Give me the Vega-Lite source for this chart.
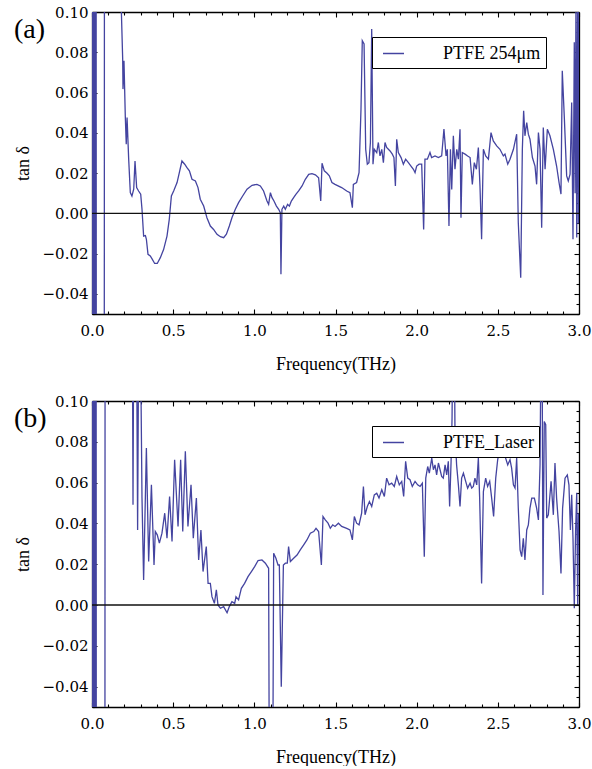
{
  "$schema": "https://vega.github.io/schema/vega-lite/v6.json",
  "background": "white",
  "padding": {"left": 14, "top": 5, "right": 5, "bottom": 0},
  "spacing": 21,
  "config": {
    "view": {"stroke": null},
    "axis": {"domainColor": "black", "domainWidth": 1.3, "tickColor": "black", "tickWidth": 1.1, "labelColor": "black", "titleColor": "black", "grid": false, "labelFont": "DejaVu Serif", "labelFontSize": 15, "titleFont": "Liberation Serif", "titleFontSize": 18, "titleFontWeight": "normal", "labelFlush": false, "labelOverlap": false},
    "legend": {"labelColor": "black"}
  },
  "datasets": {
    "a": [
      {"f":0.000,"v":0.5},{"f":0.004,"v":-0.5},{"f":0.008,"v":0.5},{"f":0.012,"v":-0.5},{"f":0.016,"v":0.5},{"f":0.020,"v":-0.5},{"f":0.024,"v":0.5},{"f":0.028,"v":-0.5},{"f":0.074,"v":-0.5},{"f":0.078,"v":0.5},{"f":0.175,"v":0.5},
      {"f":0.181,"v":0.100},{"f":0.189,"v":0.0766},{"f":0.191,"v":0.0617},{"f":0.197,"v":0.0758},{"f":0.205,"v":0.0484},{"f":0.211,"v":0.0343},{"f":0.216,"v":0.0476},{"f":0.226,"v":0.0269},{"f":0.236,"v":0.0103},{"f":0.246,"v":0.0086},{"f":0.257,"v":0.012},{"f":0.265,"v":0.026},{"f":0.275,"v":0.0128},{"f":0.287,"v":0.0111},{"f":0.300,"v":0.0095},{"f":0.308,"v":0.002},{"f":0.318,"v":-0.0113},{"f":0.329,"v":-0.011},{"f":0.335,"v":-0.0129},{"f":0.345,"v":-0.0204},{"f":0.359,"v":-0.0212},{"f":0.370,"v":-0.0226},{"f":0.386,"v":-0.0249},{"f":0.402,"v":-0.0249},{"f":0.421,"v":-0.022},{"f":0.441,"v":-0.018},{"f":0.462,"v":-0.0113},{"f":0.476,"v":-0.003},{"f":0.489,"v":0.0086},{"f":0.503,"v":0.0111},{"f":0.524,"v":0.0153},{"f":0.538,"v":0.0202},{"f":0.554,"v":0.026},{"f":0.571,"v":0.0244},{"f":0.585,"v":0.0227},{"f":0.600,"v":0.0211},{"f":0.616,"v":0.0169},{"f":0.637,"v":0.0161},{"f":0.653,"v":0.0128},{"f":0.667,"v":0.007},{"f":0.688,"v":0.0036},{"f":0.708,"v":-0.0022},{"f":0.729,"v":-0.0063},{"f":0.749,"v":-0.008},{"f":0.770,"v":-0.0104},{"f":0.791,"v":-0.0116},{"f":0.811,"v":-0.0121},{"f":0.828,"v":-0.0104},{"f":0.846,"v":-0.0063},{"f":0.862,"v":-0.0022},{"f":0.883,"v":0.002},{"f":0.903,"v":0.0053},{"f":0.928,"v":0.0086},{"f":0.955,"v":0.012},{"f":0.986,"v":0.0139},{"f":1.016,"v":0.0144},{"f":1.037,"v":0.0136},{"f":1.057,"v":0.0111},{"f":1.078,"v":0.0061},{"f":1.088,"v":0.0045},{"f":1.099,"v":0.0103},{"f":1.109,"v":0.0078},{"f":1.121,"v":0.0061},{"f":1.136,"v":0.0036},{"f":1.150,"v":0.002},{"f":1.160,"v":0.0003},{"f":1.164,"v":-0.0303},{"f":1.170,"v":0.002},{"f":1.181,"v":0.0036},{"f":1.191,"v":0.002},{"f":1.205,"v":0.0045},{"f":1.216,"v":0.0036},{"f":1.228,"v":0.0061},{"f":1.242,"v":0.0078},{"f":1.257,"v":0.0095},{"f":1.273,"v":0.0111},{"f":1.294,"v":0.0136},{"f":1.314,"v":0.0169},{"f":1.335,"v":0.0194},{"f":1.355,"v":0.0197},{"f":1.376,"v":0.0191},{"f":1.396,"v":0.0177},{"f":1.409,"v":0.0061},{"f":1.417,"v":0.0249},{"f":1.431,"v":0.0211},{"f":1.448,"v":0.0199},{"f":1.462,"v":0.0186},{"f":1.478,"v":0.0153},{"f":1.497,"v":0.0144},{"f":1.538,"v":0.0128},{"f":1.569,"v":0.0111},{"f":1.589,"v":0.0103},{"f":1.604,"v":0.0028},{"f":1.610,"v":0.0144},{"f":1.630,"v":0.0153},{"f":1.645,"v":0.0202},{"f":1.657,"v":0.0517},{"f":1.665,"v":0.0857},{"f":1.676,"v":0.0841},{"f":1.686,"v":0.0318},{"f":1.696,"v":0.0244},{"f":1.706,"v":0.0252},{"f":1.715,"v":0.0352},{"f":1.723,"v":0.0915},{"f":1.731,"v":0.0244},{"f":1.739,"v":0.0318},{"f":1.754,"v":0.0302},{"f":1.764,"v":0.0352},{"f":1.774,"v":0.0285},{"f":1.785,"v":0.0318},{"f":1.795,"v":0.0252},{"f":1.805,"v":0.0352},{"f":1.815,"v":0.0327},{"f":1.836,"v":0.031},{"f":1.850,"v":0.0294},{"f":1.860,"v":0.0277},{"f":1.869,"v":0.0136},{"f":1.877,"v":0.0368},{"f":1.887,"v":0.0302},{"f":1.904,"v":0.0277},{"f":1.918,"v":0.0244},{"f":1.932,"v":0.0269},{"f":1.949,"v":0.0252},{"f":1.965,"v":0.0235},{"f":1.980,"v":0.0219},{"f":1.990,"v":0.0202},{"f":2.000,"v":0.0235},{"f":2.015,"v":0.0244},{"f":2.031,"v":0.0244},{"f":2.043,"v":-0.008},{"f":2.051,"v":0.0269},{"f":2.066,"v":0.0269},{"f":2.082,"v":0.0302},{"f":2.092,"v":0.0277},{"f":2.113,"v":0.0285},{"f":2.134,"v":0.0277},{"f":2.154,"v":0.0285},{"f":2.168,"v":0.0418},{"f":2.181,"v":0.0285},{"f":2.189,"v":0.0318},{"f":2.199,"v":-0.0063},{"f":2.208,"v":0.0318},{"f":2.216,"v":0.0119},{"f":2.226,"v":0.0385},{"f":2.236,"v":0.0219},{"f":2.247,"v":0.0318},{"f":2.257,"v":0.0269},{"f":2.267,"v":0.0418},{"f":2.273,"v":-0.0022},{"f":2.281,"v":0.0302},{"f":2.298,"v":0.0294},{"f":2.314,"v":0.0285},{"f":2.329,"v":0.0277},{"f":2.343,"v":0.0144},{"f":2.355,"v":0.0252},{"f":2.368,"v":0.0219},{"f":2.380,"v":0.0327},{"f":2.390,"v":0.0136},{"f":2.400,"v":-0.0129},{"f":2.411,"v":0.0318},{"f":2.425,"v":0.0285},{"f":2.442,"v":0.0269},{"f":2.458,"v":0.0401},{"f":2.472,"v":0.036},{"f":2.493,"v":0.0335},{"f":2.513,"v":0.0318},{"f":2.534,"v":0.0285},{"f":2.544,"v":0.0294},{"f":2.561,"v":0.0244},{"f":2.575,"v":0.0269},{"f":2.596,"v":0.0318},{"f":2.616,"v":0.0393},{"f":2.626,"v":-0.0046},{"f":2.641,"v":-0.032},{"f":2.651,"v":0.0318},{"f":2.659,"v":0.0509},{"f":2.667,"v":0.0385},{"f":2.678,"v":0.0451},{"f":2.688,"v":0.0393},{"f":2.698,"v":0.0368},{"f":2.713,"v":0.0277},{"f":2.729,"v":0.0235},{"f":2.739,"v":0.0144},{"f":2.750,"v":0.0401},{"f":2.760,"v":0.0318},{"f":2.770,"v":-0.0071},{"f":2.780,"v":0.0426},{"f":2.791,"v":0.0219},{"f":2.805,"v":0.0418},{"f":2.821,"v":0.0385},{"f":2.842,"v":0.0318},{"f":2.862,"v":0.0235},{"f":2.877,"v":0.0153},{"f":2.889,"v":0.0095},{"f":2.897,"v":0.0708},{"f":2.910,"v":0.0468},{"f":2.924,"v":0.0186},{"f":2.934,"v":0.0161},{"f":2.945,"v":0.0194},{"f":2.955,"v":0.0551},{"f":2.963,"v":-0.0129},{"f":2.971,"v":0.085},{"f":2.976,"v":0.01},{"f":2.981,"v":0.10},{"f":2.986,"v":-0.012},{"f":2.991,"v":0.11},{"f":2.996,"v":-0.005},{"f":3.000,"v":0.10}
    ],
    "b": [
      {"f":0.000,"v":0.5},{"f":0.004,"v":-0.5},{"f":0.008,"v":0.5},{"f":0.012,"v":-0.5},{"f":0.016,"v":0.5},{"f":0.020,"v":-0.5},{"f":0.024,"v":0.5},{"f":0.028,"v":-0.5},{"f":0.078,"v":-0.5},{"f":0.082,"v":0.5},{"f":0.240,"v":0.5},
      {"f":0.246,"v":0.2},{"f":0.2526,"v":0.0491},{"f":0.260,"v":0.2},{"f":0.270,"v":0.2},{"f":0.281,"v":0.0368},{"f":0.292,"v":0.2},{"f":0.300,"v":0.12},{"f":0.308,"v":0.0524},{"f":0.318,"v":0.0123},{"f":0.335,"v":0.0769},{"f":0.349,"v":0.0213},{"f":0.366,"v":0.0589},{"f":0.382,"v":0.0196},{"f":0.390,"v":0.036},{"f":0.402,"v":0.0344},{"f":0.415,"v":0.0303},{"f":0.431,"v":0.0352},{"f":0.448,"v":0.045},{"f":0.462,"v":0.0327},{"f":0.478,"v":0.0532},{"f":0.493,"v":0.0311},{"f":0.509,"v":0.0712},{"f":0.530,"v":0.0385},{"f":0.546,"v":0.0712},{"f":0.559,"v":0.036},{"f":0.575,"v":0.0753},{"f":0.591,"v":0.0385},{"f":0.610,"v":0.0589},{"f":0.624,"v":0.0327},{"f":0.643,"v":0.0524},{"f":0.657,"v":0.0221},{"f":0.671,"v":0.0368},{"f":0.684,"v":0.0164},{"f":0.704,"v":0.0286},{"f":0.715,"v":0.0106},{"f":0.729,"v":0.0106},{"f":0.739,"v":0.0041},{"f":0.754,"v":0.0008},{"f":0.766,"v":0.0074},{"f":0.776,"v":0.0},{"f":0.791,"v":-0.0016},{"f":0.811,"v":-0.0008},{"f":0.832,"v":-0.0038},{"f":0.846,"v":-0.0008},{"f":0.862,"v":0.0016},{"f":0.879,"v":0.0008},{"f":0.887,"v":0.0041},{"f":0.903,"v":0.0025},{"f":0.920,"v":0.0082},{"f":0.940,"v":0.0106},{"f":0.961,"v":0.0139},{"f":0.982,"v":0.0164},{"f":1.002,"v":0.0188},{"f":1.023,"v":0.0218},{"f":1.047,"v":0.0221},{"f":1.068,"v":0.0205},{"f":1.088,"v":0.018},{"f":1.097,"v":-0.2},{"f":1.108,"v":-0.2},{"f":1.119,"v":0.0254},{"f":1.133,"v":0.0229},{"f":1.146,"v":0.0196},{"f":1.154,"v":0.0196},{"f":1.166,"v":-0.0401},{"f":1.179,"v":0.0196},{"f":1.191,"v":0.0205},{"f":1.203,"v":0.0205},{"f":1.211,"v":0.0286},{"f":1.222,"v":0.0213},{"f":1.242,"v":0.0229},{"f":1.263,"v":0.0245},{"f":1.283,"v":0.027},{"f":1.304,"v":0.0295},{"f":1.324,"v":0.0319},{"f":1.345,"v":0.0352},{"f":1.366,"v":0.036},{"f":1.380,"v":0.0376},{"f":1.396,"v":0.036},{"f":1.413,"v":0.0196},{"f":1.423,"v":0.0434},{"f":1.437,"v":0.0417},{"f":1.454,"v":0.0401},{"f":1.468,"v":0.0376},{"f":1.483,"v":0.0393},{"f":1.497,"v":0.0385},{"f":1.518,"v":0.0401},{"f":1.538,"v":0.0385},{"f":1.569,"v":0.0376},{"f":1.589,"v":0.0368},{"f":1.604,"v":0.0319},{"f":1.616,"v":0.0434},{"f":1.630,"v":0.0401},{"f":1.645,"v":0.0393},{"f":1.661,"v":0.045},{"f":1.672,"v":0.0581},{"f":1.682,"v":0.0442},{"f":1.696,"v":0.0483},{"f":1.709,"v":0.0507},{"f":1.723,"v":0.0483},{"f":1.739,"v":0.054},{"f":1.754,"v":0.0548},{"f":1.768,"v":0.0524},{"f":1.785,"v":0.0565},{"f":1.801,"v":0.0532},{"f":1.815,"v":0.0622},{"f":1.830,"v":0.0589},{"f":1.846,"v":0.0597},{"f":1.862,"v":0.0581},{"f":1.877,"v":0.063},{"f":1.893,"v":0.0589},{"f":1.908,"v":0.0606},{"f":1.920,"v":0.0532},{"f":1.932,"v":0.0704},{"f":1.945,"v":0.0622},{"f":1.959,"v":0.0614},{"f":1.973,"v":0.0581},{"f":1.990,"v":0.0606},{"f":2.006,"v":0.0589},{"f":2.021,"v":0.0581},{"f":2.035,"v":0.0597},{"f":2.047,"v":0.0237},{"f":2.056,"v":0.0622},{"f":2.068,"v":0.0679},{"f":2.078,"v":0.0646},{"f":2.093,"v":0.072},{"f":2.103,"v":0.0663},{"f":2.113,"v":0.0687},{"f":2.123,"v":0.0638},{"f":2.134,"v":0.0696},{"f":2.144,"v":0.0663},{"f":2.154,"v":0.063},{"f":2.164,"v":0.0622},{"f":2.175,"v":0.0687},{"f":2.185,"v":0.0638},{"f":2.195,"v":0.0704},{"f":2.203,"v":0.0483},{"f":2.212,"v":0.0704},{"f":2.218,"v":0.0917},{"f":2.224,"v":0.15},{"f":2.230,"v":0.15},{"f":2.236,"v":0.0851},{"f":2.246,"v":0.0687},{"f":2.257,"v":0.0589},{"f":2.267,"v":0.0483},{"f":2.277,"v":0.0622},{"f":2.288,"v":0.0646},{"f":2.302,"v":0.0606},{"f":2.314,"v":0.0573},{"f":2.329,"v":0.0597},{"f":2.339,"v":0.0573},{"f":2.349,"v":0.0581},{"f":2.359,"v":0.0622},{"f":2.370,"v":0.0589},{"f":2.380,"v":0.072},{"f":2.388,"v":0.0524},{"f":2.400,"v":0.0106},{"f":2.411,"v":0.0556},{"f":2.425,"v":0.0622},{"f":2.437,"v":0.0581},{"f":2.450,"v":0.0606},{"f":2.462,"v":0.0524},{"f":2.474,"v":0.0434},{"f":2.487,"v":0.0622},{"f":2.499,"v":0.0712},{"f":2.513,"v":0.0769},{"f":2.524,"v":0.0745},{"f":2.534,"v":0.0777},{"f":2.548,"v":0.072},{"f":2.561,"v":0.0687},{"f":2.575,"v":0.0712},{"f":2.585,"v":0.0671},{"f":2.596,"v":0.0589},{"f":2.606,"v":0.0573},{"f":2.616,"v":0.072},{"f":2.626,"v":0.0475},{"f":2.637,"v":0.027},{"f":2.647,"v":0.0237},{"f":2.657,"v":0.0327},{"f":2.667,"v":0.0221},{"f":2.678,"v":0.0368},{"f":2.688,"v":0.0393},{"f":2.698,"v":0.0475},{"f":2.709,"v":0.0524},{"f":2.725,"v":0.0524},{"f":2.739,"v":0.0475},{"f":2.750,"v":0.0417},{"f":2.760,"v":0.0687},{"f":2.768,"v":0.15},{"f":2.772,"v":0.15},{"f":2.778,"v":0.0049},{"f":2.786,"v":0.09},{"f":2.795,"v":0.0884},{"f":2.801,"v":0.0426},{"f":2.811,"v":0.0442},{"f":2.828,"v":0.0606},{"f":2.842,"v":0.0442},{"f":2.852,"v":0.0696},{"f":2.862,"v":0.0524},{"f":2.877,"v":0.036},{"f":2.889,"v":0.0155},{"f":2.899,"v":0.0475},{"f":2.914,"v":0.0622},{"f":2.928,"v":0.0638},{"f":2.938,"v":0.0589},{"f":2.947,"v":0.0368},{"f":2.955,"v":0.054},{"f":2.963,"v":0.0327},{"f":2.971,"v":-0.0016},{"f":2.979,"v":0.036},{"f":2.986,"v":0.055},{"f":2.992,"v":0.0},{"f":2.997,"v":0.045}
    ]
  },
  "resolve": {"scale": {"x": "independent", "y": "independent", "color": "independent"}},
  "vconcat": [
    {
      "width": 487, "height": 302,
      "title": {"text": "(a)", "anchor": "start", "frame": "group", "orient": "top", "offset": -35, "dx": -78, "dy": 26, "baseline": "alphabetic", "font": "Liberation Serif", "fontSize": 28, "fontWeight": "normal", "color": "black"},
      "data": {"name": "a"},
      "resolve": {"axis": {"x": "independent", "y": "independent"}},
      "layer": [
        {
          "mark": {"type": "line", "clip": true, "strokeWidth": 1.3},
          "encoding": {
            "x": {"field": "f", "type": "quantitative", "scale": {"domain": [0, 3], "nice": false, "zero": false},
              "axis": {"orient": "bottom", "values": [0,0.1,0.2,0.3,0.4,0.5,0.6,0.7,0.8,0.9,1,1.1,1.2,1.3,1.4,1.5,1.6,1.7,1.8,1.9,2,2.1,2.2,2.3,2.4,2.5,2.6,2.7,2.8,2.9,3],
                "tickSize": {"condition": {"test": "abs(datum.value*2-round(datum.value*2))<0.01", "value": -5}, "value": -3},
                "labelExpr": "abs(datum.value*2-round(datum.value*2))<0.01 ? format(datum.value,'.1f') : ''",
                "labelPadding": 14, "title": "Frequency(THz)", "titlePadding": 15}},
            "y": {"field": "v", "type": "quantitative", "scale": {"domain": [-0.05, 0.1], "nice": false, "zero": false},
              "axis": {"orient": "left", "values": [-0.05,-0.045,-0.04,-0.035,-0.03,-0.025,-0.02,-0.015,-0.01,-0.005,0,0.005,0.01,0.015,0.02,0.025,0.03,0.035,0.04,0.045,0.05,0.055,0.06,0.065,0.07,0.075,0.08,0.085,0.09,0.095,0.1],
                "tickSize": {"condition": {"test": "abs(datum.value*50-round(datum.value*50))<0.01", "value": -5}, "value": -3},
                "labelExpr": "abs(datum.value*50-round(datum.value*50))<0.01 ? format(datum.value,'.2f') : ''",
                "labelPadding": 9, "title": "tan δ", "titlePadding": 10}},
            "color": {"datum": "PTFE 254μm", "type": "nominal", "scale": {"range": ["#4444a0"]},
              "legend": {"orient": "none", "legendX": 280, "legendY": 25, "title": null, "symbolType": "stroke", "symbolSize": 441, "symbolStrokeWidth": 1.5, "symbolOffset": 5, "labelOffset": 38, "labelFont": "Liberation Serif", "labelFontSize": 18, "padding": 5, "strokeColor": "black", "fillColor": "white", "labelExpr": "datum.label + '\u00a0\u00a0'"}}
          }
        },
        {
          "data": {"values": [{}]},
          "mark": {"type": "rule", "color": "#111111", "strokeWidth": 1.3},
          "encoding": {
            "x": {"datum": 0, "type": "quantitative",
              "axis": {"orient": "top", "values": [0,0.1,0.2,0.3,0.4,0.5,0.6,0.7,0.8,0.9,1,1.1,1.2,1.3,1.4,1.5,1.6,1.7,1.8,1.9,2,2.1,2.2,2.3,2.4,2.5,2.6,2.7,2.8,2.9,3],
                "tickSize": {"condition": {"test": "abs(datum.value*2-round(datum.value*2))<0.01", "value": -5}, "value": -3},
                "labels": false, "title": null}},
            "x2": {"datum": 3},
            "y": {"datum": 0, "type": "quantitative",
              "axis": {"orient": "right", "values": [-0.05,-0.045,-0.04,-0.035,-0.03,-0.025,-0.02,-0.015,-0.01,-0.005,0,0.005,0.01,0.015,0.02,0.025,0.03,0.035,0.04,0.045,0.05,0.055,0.06,0.065,0.07,0.075,0.08,0.085,0.09,0.095,0.1],
                "tickSize": {"condition": {"test": "abs(datum.value*50-round(datum.value*50))<0.01", "value": -5}, "value": -3},
                "labels": false, "title": null}}
          }
        }
      ]
    },
    {
      "width": 487, "height": 306,
      "title": {"text": "(b)", "anchor": "start", "frame": "group", "orient": "top", "offset": -35, "dx": -78, "dy": 26, "baseline": "alphabetic", "font": "Liberation Serif", "fontSize": 28, "fontWeight": "normal", "color": "black"},
      "data": {"name": "b"},
      "resolve": {"axis": {"x": "independent", "y": "independent"}},
      "layer": [
        {
          "mark": {"type": "line", "clip": true, "strokeWidth": 1.3},
          "encoding": {
            "x": {"field": "f", "type": "quantitative", "scale": {"domain": [0, 3], "nice": false, "zero": false},
              "axis": {"orient": "bottom", "values": [0,0.1,0.2,0.3,0.4,0.5,0.6,0.7,0.8,0.9,1,1.1,1.2,1.3,1.4,1.5,1.6,1.7,1.8,1.9,2,2.1,2.2,2.3,2.4,2.5,2.6,2.7,2.8,2.9,3],
                "tickSize": {"condition": {"test": "abs(datum.value*2-round(datum.value*2))<0.01", "value": -5}, "value": -3},
                "labelExpr": "abs(datum.value*2-round(datum.value*2))<0.01 ? format(datum.value,'.1f') : ''",
                "labelPadding": 14, "title": "Frequency(THz)", "titlePadding": 15}},
            "y": {"field": "v", "type": "quantitative", "scale": {"domain": [-0.05, 0.1], "nice": false, "zero": false},
              "axis": {"orient": "left", "values": [-0.05,-0.045,-0.04,-0.035,-0.03,-0.025,-0.02,-0.015,-0.01,-0.005,0,0.005,0.01,0.015,0.02,0.025,0.03,0.035,0.04,0.045,0.05,0.055,0.06,0.065,0.07,0.075,0.08,0.085,0.09,0.095,0.1],
                "tickSize": {"condition": {"test": "abs(datum.value*50-round(datum.value*50))<0.01", "value": -5}, "value": -3},
                "labelExpr": "abs(datum.value*50-round(datum.value*50))<0.01 ? format(datum.value,'.2f') : ''",
                "labelPadding": 9, "title": "tan δ", "titlePadding": 10}},
            "color": {"datum": "PTFE_Laser", "type": "nominal", "scale": {"range": ["#4444a0"]},
              "legend": {"orient": "none", "legendX": 280, "legendY": 25, "title": null, "symbolType": "stroke", "symbolSize": 441, "symbolStrokeWidth": 1.5, "symbolOffset": 5, "labelOffset": 38, "labelFont": "Liberation Serif", "labelFontSize": 18, "padding": 5, "strokeColor": "black", "fillColor": "white", "labelExpr": "datum.label + '\u00a0\u00a0\u00a0'"}}
          }
        },
        {
          "data": {"values": [{}]},
          "mark": {"type": "rule", "color": "#111111", "strokeWidth": 1.3},
          "encoding": {
            "x": {"datum": 0, "type": "quantitative",
              "axis": {"orient": "top", "values": [0,0.1,0.2,0.3,0.4,0.5,0.6,0.7,0.8,0.9,1,1.1,1.2,1.3,1.4,1.5,1.6,1.7,1.8,1.9,2,2.1,2.2,2.3,2.4,2.5,2.6,2.7,2.8,2.9,3],
                "tickSize": {"condition": {"test": "abs(datum.value*2-round(datum.value*2))<0.01", "value": -5}, "value": -3},
                "labels": false, "title": null}},
            "x2": {"datum": 3},
            "y": {"datum": 0, "type": "quantitative",
              "axis": {"orient": "right", "values": [-0.05,-0.045,-0.04,-0.035,-0.03,-0.025,-0.02,-0.015,-0.01,-0.005,0,0.005,0.01,0.015,0.02,0.025,0.03,0.035,0.04,0.045,0.05,0.055,0.06,0.065,0.07,0.075,0.08,0.085,0.09,0.095,0.1],
                "tickSize": {"condition": {"test": "abs(datum.value*50-round(datum.value*50))<0.01", "value": -5}, "value": -3},
                "labels": false, "title": null}}
          }
        }
      ]
    }
  ]
}
